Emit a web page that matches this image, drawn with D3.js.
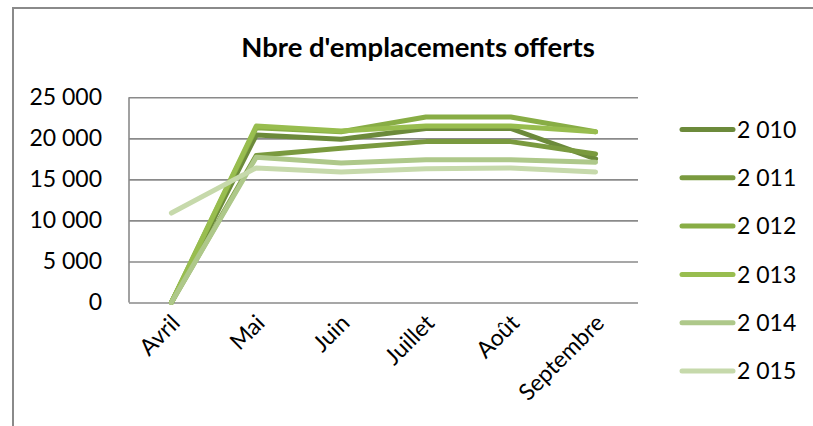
<!DOCTYPE html>
<html>
<head>
<meta charset="utf-8">
<script src="https://cdn.jsdelivr.net/npm/d3@7"></script>
<style>
  body { margin: 0; background: #fff; }
  text { font-family: Lato, "Open Sans", sans-serif; fill: #000; }
</style>
</head>
<body>
<svg></svg>
<script>
const width = 813;
const height = 426;

// data
const months = ["Avril", "Mai", "Juin", "Juillet", "Août", "Septembre"];
const years = ["2 010", "2 011", "2 012", "2 013", "2 014", "2 015"];
const v2010 = [0, 20400, 19900, 21200, 21200, 17500];
const v2011 = [0, 17900, 18800, 19600, 19600, 18100];
const v2012 = [0, 21300, 20800, 22600, 22600, 20800];
const v2013 = [0, 21500, 20900, 21500, 21500, 20800];
const v2014 = [0, 17700, 17000, 17400, 17400, 17100];
const v2015 = [10900, 16400, 15900, 16300, 16400, 15900];
const yTicks = [0, 5000, 10000, 15000, 20000, 25000];
const colors = ["#6c8a3b", "#7a9a3f", "#88ad45", "#98bd4f", "#aec88a", "#c6d9ab"];

const seriesValues = [v2010, v2011, v2012, v2013, v2014, v2015];

const svg = d3.select("svg").attr("width", width).attr("height", height);

// frame
svg.append("path")
  .attr("d", `M13,${height} L13,8 L${width},8`)
  .attr("fill", "none")
  .attr("stroke", "#8a8a8a")
  .attr("stroke-width", 2);

// title
svg.append("text")
  .attr("x", 418)
  .attr("y", 57)
  .attr("text-anchor", "middle")
  .attr("font-size", 27.5)
  .attr("font-weight", "bold")
  .text("Nbre d'emplacements offerts");

const x = d3.scalePoint().domain(months).range([129, 638]).padding(0.5);
const y = d3.scaleLinear().domain([0, 25000]).range([302.5, 97.3]);

const fr = d3.formatLocale({ decimal: ",", thousands: " ", grouping: [3], currency: ["", " €"] });
const fmt = fr.format(",d");

// gridlines + y labels
const yAxis = svg.append("g")
  .attr("transform", "translate(129,0)")
  .call(d3.axisLeft(y).tickValues(yTicks).tickSize(-(638 - 129)).tickPadding(27).tickFormat(fmt));
yAxis.select(".domain").remove();
yAxis.selectAll(".tick line").attr("stroke", "#8a8a8a").attr("stroke-width", 1.6);
yAxis.selectAll(".tick text")
  .attr("font-size", 23)
  .style("font-family", "Lato, sans-serif")
  .attr("fill", "#000");

// left axis line
svg.append("line")
  .attr("x1", 129).attr("x2", 129)
  .attr("y1", y(25000)).attr("y2", y(0))
  .attr("stroke", "#8a8a8a")
  .attr("stroke-width", 1.6);

// x labels, rotated
svg.append("g")
  .selectAll("text")
  .data(months)
  .join("text")
  .attr("transform", d => `translate(${x(d) + 10},${y(0) + 22}) rotate(-45)`)
  .attr("text-anchor", "end")
  .attr("font-size", 23)
  .text(d => d);

// lines
const line = d3.line()
  .x((d, i) => x(months[i]))
  .y(d => y(d));

svg.append("g")
  .selectAll("path")
  .data(seriesValues)
  .join("path")
  .attr("d", d => line(d))
  .attr("fill", "none")
  .attr("stroke", (d, i) => colors[i])
  .attr("stroke-width", 5)
  .attr("stroke-linecap", "round")
  .attr("stroke-linejoin", "round");

// legend
const legend = svg.append("g")
  .selectAll("g")
  .data(years)
  .join("g")
  .attr("transform", (d, i) => `translate(680,${129.5 + i * 48.3})`);

legend.append("line")
  .attr("x1", 2).attr("x2", 53)
  .attr("stroke", (d, i) => colors[i])
  .attr("stroke-width", 5)
  .attr("stroke-linecap", "round");

legend.append("text")
  .attr("x", 57)
  .attr("dy", "0.36em")
  .attr("font-size", 23)
  .text(d => d);
</script>
</body>
</html>
